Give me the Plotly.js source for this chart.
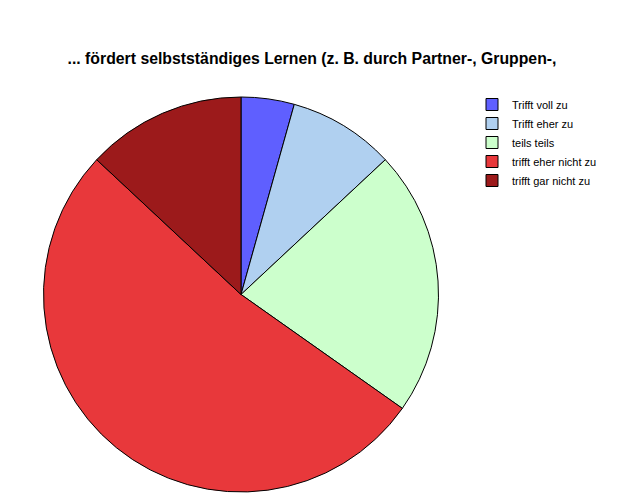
<!DOCTYPE html>
<html>
<head>
<meta charset="utf-8">
<script src="https://cdn.plot.ly/plotly-3.0.1.min.js"></script>
<style>
  html, body { margin: 0; padding: 0; background: #fff; }
  #chart { width: 624px; height: 501px; }
</style>
</head>
<body>
<div id="chart"></div>
<script>
// answer categories and counts (n = 23)
const labels = ['Trifft voll zu', 'Trifft eher zu', 'teils teils', 'trifft eher nicht zu', 'trifft gar nicht zu'];
const counts = [1, 2, 5, 12, 3];
const sliceColors = ['#5f5fff', '#b0d0f0', '#ccffcc', '#e8383b', '#9c1a1b'];

const trace = {
  type: 'pie',
  labels: labels,
  values: counts,
  sort: false,
  direction: 'clockwise',
  rotation: 0,
  textinfo: 'none',
  hoverinfo: 'label+percent',
  marker: { colors: sliceColors, line: { color: '#000', width: 1 } },
  domain: { x: [43/624, 439/624], y: [1 - 492/501, 1 - 97/501] }
};

const layout = {
  width: 624, height: 501,
  margin: { l: 0, r: 0, t: 0, b: 0 },
  paper_bgcolor: '#fff',
  font: { family: 'Liberation Sans, Arial, sans-serif', color: '#000' },
  title: {
    text: '<b>... fördert selbstständiges Lernen (z. B. durch Partner-, Gruppen-,</b>',
    font: { size: 15.8, color: '#000' },
    x: 312/624, xanchor: 'center', y: 1 - 58/501, yanchor: 'middle'
  },
  showlegend: true,
  legend: {
    x: 472/624, xanchor: 'left', y: 1 - 90/501, yanchor: 'top',
    font: { size: 11, color: '#000' },
    tracegroupgap: 0, itemwidth: 30,
    bgcolor: 'rgba(0,0,0,0)'
  }
};

Plotly.newPlot('chart', [trace], layout, { displayModeBar: false, staticPlot: true });
</script>
</body>
</html>
